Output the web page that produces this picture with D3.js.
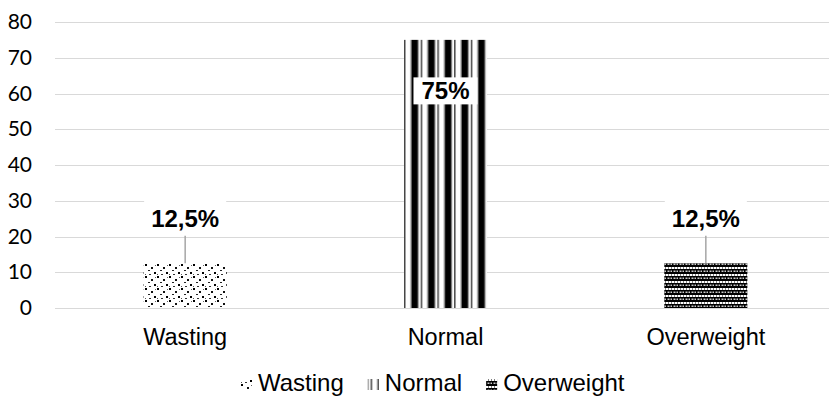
<!DOCTYPE html>
<html>
<head>
<meta charset="utf-8">
<script src="https://cdn.jsdelivr.net/npm/d3@7"></script>
<style>
  body { margin: 0; background: #fff; }
  svg { display: block; }
</style>
</head>
<body>
<script>
// data
var categories = ["Wasting", "Normal", "Overweight"];
var values = [12.5, 75, 12.5];
var valueLabels = ["12,5%", "75%", "12,5%"];
var yTicks = [0, 10, 20, 30, 40, 50, 60, 70, 80];
var patternIds = ["pWasting", "pNormal", "pOverweight"];

var w = 829, h = 400;
var margin = { left: 55, right: -7, top: 22, bottom: 92 };
var arial = "'Liberation Sans', Arial, sans-serif";

var x = d3.scaleBand()
  .domain(categories)
  .range([margin.left, w - margin.right])
  .paddingInner(0.681)
  .paddingOuter(0.3405);

var y = d3.scaleLinear()
  .domain([0, 80])
  .range([h - margin.bottom, margin.top]);

var svg = d3.select("body").append("svg")
  .attr("width", w)
  .attr("height", h);

var defs = svg.append("defs");

// sparse dots for Wasting
var p1 = defs.append("pattern").attr("id", "pWasting")
  .attr("patternUnits", "userSpaceOnUse").attr("width", 12).attr("height", 12);
p1.append("rect").attr("width", 12).attr("height", 12).attr("fill", "#fff");
[[1, 0, 2, 2, "#000"], [7, 3, 2, 2, "#111"], [4, 6, 2, 1, "#222"], [10, 8, 2, 2, "#000"],
 [1, 10, 1, 1, "#555"], [5, 10, 2, 1, "#333"], [11, 1, 1, 1, "#666"]].forEach(function(d) {
  p1.append("rect").attr("x", d[0]).attr("y", d[1])
    .attr("width", d[2]).attr("height", d[3]).attr("fill", d[4]);
});

// vertical stripes for Normal, lined up with the bar's left edge
var pw = 16.7;
var p2 = defs.append("pattern").attr("id", "pNormal")
  .attr("patternUnits", "userSpaceOnUse").attr("width", pw).attr("height", 10)
  .attr("x", x("Normal"));
p2.append("rect").attr("width", pw).attr("height", 10).attr("fill", "#fff");
p2.append("rect").attr("x", 0).attr("width", 1.5).attr("height", 10).attr("fill", "#444");
p2.append("rect").attr("x", 6.5).attr("width", 1.2).attr("height", 10).attr("fill", "#777");
p2.append("rect").attr("x", 7.7).attr("width", 6).attr("height", 10).attr("fill", "#000");
p2.append("rect").attr("x", 13.7).attr("width", 1.2).attr("height", 10).attr("fill", "#888");

// weave for Overweight
var p3 = defs.append("pattern").attr("id", "pOverweight")
  .attr("patternUnits", "userSpaceOnUse").attr("width", 6).attr("height", 7);
p3.append("rect").attr("width", 6).attr("height", 7).attr("fill", "#000");
p3.append("rect").attr("x", 0).attr("y", 1).attr("width", 2.5).attr("height", 2).attr("fill", "#fff");
p3.append("rect").attr("x", 3).attr("y", 1).attr("width", 2.5).attr("height", 2).attr("fill", "#fff");
p3.append("rect").attr("x", 1.5).attr("y", 4.5).attr("width", 2).attr("height", 1.5).attr("fill", "#ccc");
p3.append("rect").attr("x", 4.5).attr("y", 4.5).attr("width", 1.5).attr("height", 1.5).attr("fill", "#ccc");

// gridlines
svg.append("g")
  .selectAll("line")
  .data(yTicks)
  .enter().append("line")
  .attr("x1", margin.left)
  .attr("x2", w - margin.right)
  .attr("y1", function(d) { return Math.round(y(d)) + 0.5; })
  .attr("y2", function(d) { return Math.round(y(d)) + 0.5; })
  .attr("stroke", "#d9d9d9")
  .attr("stroke-width", 1);

// y axis labels
var yAxis = svg.append("g")
  .attr("transform", "translate(" + (margin.left - 23) + ",0)")
  .call(d3.axisLeft(y).tickValues(yTicks).tickSize(0).tickPadding(0));
yAxis.select(".domain").remove();
yAxis.selectAll("text")
  .attr("font-family", "Lato, 'Open Sans', sans-serif")
  .attr("font-size", 21)
  .attr("fill", "#000");

// bars
svg.append("g")
  .selectAll("rect")
  .data(values)
  .enter().append("rect")
  .attr("x", function(d, i) { return x(categories[i]); })
  .attr("y", function(d) { return y(d); })
  .attr("width", x.bandwidth())
  .attr("height", function(d) { return y(0) - y(d); })
  .attr("fill", function(d, i) { return "url(#" + patternIds[i] + ")"; });

// x axis labels
var xAxis = svg.append("g")
  .attr("transform", "translate(0," + y(0) + ")")
  .call(d3.axisBottom(x).tickSize(0).tickPadding(20));
xAxis.select(".domain").remove();
xAxis.selectAll("text")
  .attr("font-family", arial)
  .attr("font-size", 23.5)
  .attr("fill", "#000");

// data labels
var lbl = svg.append("g").selectAll("g")
  .data(values)
  .enter().append("g");

lbl.each(function(d, i) {
  var g = d3.select(this);
  var cx = x(categories[i]) + x.bandwidth() / 2;
  var inside = d > 40;
  var ty = inside ? y(d) + 51 : y(d) - 45;
  var text = g.append("text")
    .attr("x", cx)
    .attr("y", ty)
    .attr("text-anchor", "middle")
    .attr("dominant-baseline", "central")
    .attr("font-family", arial)
    .attr("font-weight", "bold")
    .attr("font-size", 24)
    .attr("fill", "#000")
    .text(valueLabels[i]);
  var bb = text.node().getBBox();
  var padX = inside ? 8 : 7, padY = inside ? 0 : 4;
  g.insert("rect", "text")
    .attr("x", bb.x - padX)
    .attr("y", bb.y - padY)
    .attr("width", bb.width + 2 * padX)
    .attr("height", bb.height + 2 * padY)
    .attr("fill", "#fff");
  if (!inside) {
    g.append("line")
      .attr("x1", cx).attr("x2", cx)
      .attr("y1", bb.y + bb.height + padY)
      .attr("y2", y(d))
      .attr("stroke", "#a6a6a6")
      .attr("stroke-width", 1.5);
  }
});

// legend
var legend = svg.append("g");
var lx = 241;
categories.forEach(function(c, i) {
  if (i > 0) lx += 24;
  legend.append("rect")
    .attr("x", lx).attr("y", 379)
    .attr("width", 11).attr("height", 11)
    .attr("fill", "url(#" + patternIds[i] + ")");
  var t = legend.append("text")
    .attr("x", lx + 17)
    .attr("y", 391)
    .attr("font-family", arial)
    .attr("font-size", 24)
    .attr("fill", "#000")
    .text(c);
  lx += 17 + t.node().getComputedTextLength();
});
</script>
</body>
</html>
